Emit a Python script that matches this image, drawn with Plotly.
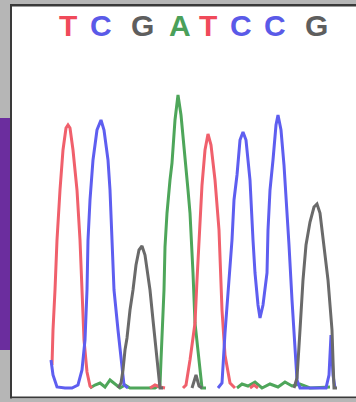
import plotly.graph_objects as go

# Base calls shown above the trace
bases = ["T", "C", "G", "A", "T", "C", "C", "G"]
base_pos = [68, 101, 142, 180, 208, 241, 275, 316]

# Chromatogram channels (scan position, signal)
red_x = [52, 53, 55, 57, 60, 63, 66, 68, 70, 73, 77, 80, 82, 84, 87, 90, 92,
         None, 150, 155, 160, 165,
         None, 183, 186, 190, 195, 197, 199, 202, 205, 208, 211, 215, 219, 220, 222, 225, 230, 235,
         None, 250, 254, 258]
red_y = [25, 60, 100, 150, 200, 240, 262, 265, 262, 240, 200, 150, 100, 50, 18, 4, 2,
         None, 2, 5, 3, 2,
         None, 2, 5, 30, 67, 110, 150, 205, 240, 256, 245, 210, 160, 130, 80, 35, 7, 2,
         None, 2, 5, 2]

blue_x = [51, 53, 57, 65, 72, 78, 82, 85, 87, 88, 90, 93, 97, 101, 104, 108, 110, 112, 114, 118, 121, 124, 128,
          None, 218, 222, 225, 228, 232, 234, 237, 240, 243, 246, 250, 253, 255, 258, 260, 263, 267, 268,
          270, 273, 276, 278, 281, 284, 287, 289, 292, 295, 297, 300, 326, 329, 331, 333, 335]
blue_y = [30, 15, 3, 2, 2, 5, 20, 50, 100, 150, 190, 230, 260, 270, 260, 230, 200, 150, 100, 60, 30, 5, 2,
          None, 2, 7, 57, 100, 150, 190, 215, 250, 258, 250, 210, 150, 117, 85, 72, 85, 117, 160,
          200, 230, 265, 275, 260, 225, 180, 145, 90, 45, 10, 2, 2, 15, 55, 15, 2]

green_x = [90, 95, 100, 105, 110, 115, 120, 125, 130, 155, 160, 161, 162, 164, 165, 167, 170, 172, 175,
           178, 181, 185, 188, 190, 192, 193, 195, 198, 200, 202, 206,
           None, 237, 242, 248, 255, 262, 270, 278, 285, 292, 300, 310, 330]
green_y = [2, 5, 7, 3, 10, 6, 2, 5, 2, 2, 5, 30, 50, 100, 143, 177, 210, 227, 270,
           295, 275, 227, 200, 177, 143, 117, 67, 40, 17, 2, 2,
           None, 2, 6, 4, 8, 2, 6, 3, 8, 4, 6, 2, 3]

gray_x = [118, 121, 123, 125, 127, 130, 133, 136, 139, 142, 145, 148, 150, 153, 156, 158, 160, 163,
          None, 192, 196, 199, 202,
          None, 294, 297, 300, 303, 306, 310, 314, 317, 320, 322, 325, 328, 330, 332, 333, 334, 337]
gray_y = [2, 7, 20, 40, 52, 80, 100, 125, 140, 144, 135, 115, 100, 70, 40, 20, 2, 2,
          None, 2, 15, 4, 2,
          None, 2, 12, 60, 110, 145, 168, 183, 186, 177, 160, 135, 110, 85, 60, 30, 2, 2]

colors = {"T": "#f0606c", "C": "#5e5ef0", "G": "#6a6a6a", "A": "#4ea65a"}
text_colors = {"T": "#f04a5a", "C": "#5a5ae8", "G": "#5e5e5e", "A": "#4aa05a"}

W, H = 356, 402

fig = go.Figure()
for xs, ys, b in [(green_x, green_y, "A"), (red_x, red_y, "T"), (blue_x, blue_y, "C"), (gray_x, gray_y, "G")]:
    fig.add_trace(go.Scatter(x=xs, y=ys, mode="lines",
                             line=dict(color=colors[b], width=3),
                             connectgaps=False, hoverinfo="skip", showlegend=False))

for b, p in zip(bases, base_pos):
    fig.add_annotation(x=p, y=365, text="<b>" + b + "</b>", showarrow=False, xanchor="center", yanchor="middle",
                       font=dict(family="Liberation Sans, Arial, sans-serif", size=30, color=text_colors[b]))

def px(x):
    return x / W

def py(y):
    return 1 - y / H

shapes = [
    # left panel
    dict(type="rect", xref="paper", yref="paper", x0=0, x1=px(10), y0=0, y1=1,
         fillcolor="#b6b6b6", line=dict(width=0), layer="above"),
    dict(type="rect", xref="paper", yref="paper", x0=0, x1=px(10), y0=py(350), y1=py(118),
         fillcolor="#6b2d9e", line=dict(width=0), layer="above"),
    dict(type="rect", xref="paper", yref="paper", x0=px(10), x1=px(12), y0=0, y1=1,
         fillcolor="#3a3a3a", line=dict(width=0), layer="above"),
    # top strip
    dict(type="rect", xref="paper", yref="paper", x0=px(10), x1=1, y0=py(4), y1=1,
         fillcolor="#b6b6b6", line=dict(width=0), layer="above"),
    dict(type="rect", xref="paper", yref="paper", x0=px(10), x1=1, y0=py(6.5), y1=py(4),
         fillcolor="#3a3a3a", line=dict(width=0), layer="above"),
    # bottom strip
    dict(type="rect", xref="paper", yref="paper", x0=px(10), x1=1, y0=py(398.5), y1=py(396.5),
         fillcolor="#3a3a3a", line=dict(width=0), layer="above"),
    dict(type="rect", xref="paper", yref="paper", x0=px(10), x1=1, y0=0, y1=py(398.5),
         fillcolor="#b6b6b6", line=dict(width=0), layer="above"),
]

fig.update_layout(
    width=W, height=H,
    margin=dict(l=0, r=0, t=0, b=0),
    paper_bgcolor="white", plot_bgcolor="white",
    xaxis=dict(range=[0, W], visible=False, fixedrange=True),
    yaxis=dict(range=[390 - H, 390], visible=False, fixedrange=True),
    shapes=shapes,
)

fig.write_html("out.html", config={"displayModeBar": False},
               post_script="document.body.style.margin='0';document.body.style.overflow='hidden';")
